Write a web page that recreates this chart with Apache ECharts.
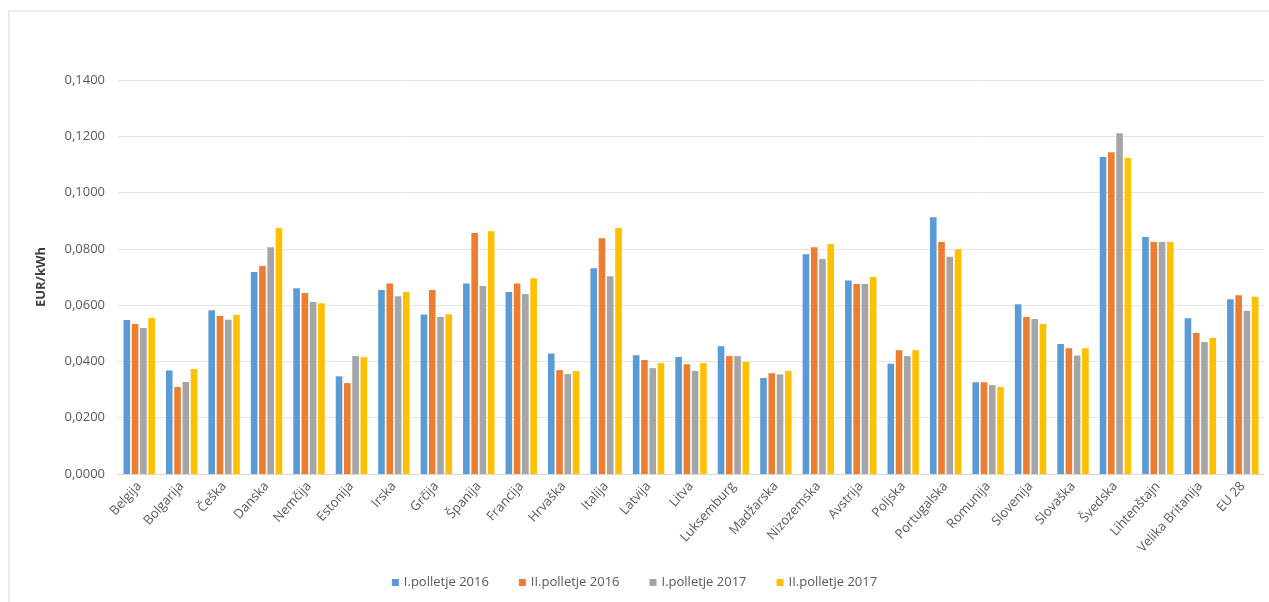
<!DOCTYPE html>
<html>
<head>
<meta charset="utf-8">
<script src="https://cdn.jsdelivr.net/npm/echarts@6/dist/echarts.min.js"></script>
<style>
html,body{margin:0;padding:0;background:#fff;}
#frame{position:absolute;left:8px;top:10px;width:1261px;height:592px;border-top:2px solid #ececec;border-left:2px solid #ececec;box-sizing:border-box;}
#main{position:absolute;left:0;top:0;width:1269px;height:602px;}
</style>
</head>
<body>
<div id="frame"></div>
<div id="main"></div>
<script>
var countries = ['Belgija','Bolgarija','Češka','Danska','Nemčija','Estonija','Irska','Grčija','Španija','Francija','Hrvaška','Italija','Latvija','Litva','Luksemburg','Madžarska','Nizozemska','Avstrija','Poljska','Portugalska','Romunija','Slovenija','Slovaška','Švedska','Lihtenštajn','Velika Britanija','EU 28'];
var seriesNames = ['I.polletje 2016','II.polletje 2016','I.polletje 2017','II.polletje 2017'];
var h1_2016 = [0.0547,0.0368,0.0582,0.0718,0.0660,0.0347,0.0654,0.0567,0.0677,0.0647,0.0428,0.0731,0.0422,0.0416,0.0454,0.0341,0.0781,0.0688,0.0392,0.0912,0.0326,0.0603,0.0462,0.1126,0.0842,0.0553,0.0621];
var h2_2016 = [0.0533,0.0309,0.0561,0.0739,0.0643,0.0323,0.0677,0.0654,0.0856,0.0677,0.0369,0.0838,0.0405,0.0390,0.0419,0.0358,0.0806,0.0675,0.0440,0.0824,0.0326,0.0558,0.0447,0.1143,0.0824,0.0501,0.0635];
var h1_2017 = [0.0519,0.0327,0.0548,0.0806,0.0611,0.0419,0.0632,0.0558,0.0668,0.0640,0.0355,0.0703,0.0376,0.0366,0.0419,0.0354,0.0764,0.0675,0.0419,0.0772,0.0316,0.0551,0.0421,0.1211,0.0824,0.0469,0.0580];
var h2_2017 = [0.0554,0.0373,0.0565,0.0874,0.0607,0.0415,0.0647,0.0568,0.0863,0.0696,0.0366,0.0874,0.0394,0.0394,0.0398,0.0366,0.0817,0.0700,0.0440,0.0799,0.0309,0.0533,0.0447,0.1123,0.0824,0.0483,0.0630];
var colors = ['#5B9BD5','#ED7D31','#A5A5A5','#FFC000'];

var chart = echarts.init(document.getElementById('main'));
var dataSets = [h1_2016, h2_2016, h1_2017, h2_2017];
var series = [];
for (var i = 0; i < dataSets.length; i++) {
  series.push({
    name: seriesNames[i],
    type: 'bar',
    data: dataSets[i],
    barGap: '25%',
    barCategoryGap: '26%',
    itemStyle: {color: colors[i]}
  });
}
chart.setOption({
  animation: false,
  color: colors,
  textStyle: {fontFamily: 'Open Sans'},
  grid: {left: 118, right: 5, top: 80, bottom: 128},
  legend: {
    top: 571,
    left: 'center',
    itemWidth: 7,
    itemHeight: 7,
    itemGap: 30,
    icon: 'rect',
    textStyle: {color: '#595959', fontSize: 13}
  },
  xAxis: {
    type: 'category',
    data: countries,
    axisLine: {lineStyle: {color: '#d9d9d9'}},
    axisTick: {show: false},
    axisLabel: {rotate: 48, color: '#595959', fontSize: 13, interval: 0, margin: 10}
  },
  yAxis: {
    type: 'value',
    min: 0,
    max: 0.14,
    interval: 0.02,
    name: 'EUR/kWh',
    nameLocation: 'middle',
    nameGap: 70,
    nameTextStyle: {color: '#404040', fontSize: 13, fontWeight: 'bold'},
    axisLine: {show: false},
    axisTick: {show: false},
    axisLabel: {
      color: '#595959', fontSize: 13, margin: 13,
      formatter: function (v) { return v.toFixed(4).replace('.', ','); }
    },
    splitLine: {lineStyle: {color: '#e3e3e3'}}
  },
  series: series
});
</script>
</body>
</html>
